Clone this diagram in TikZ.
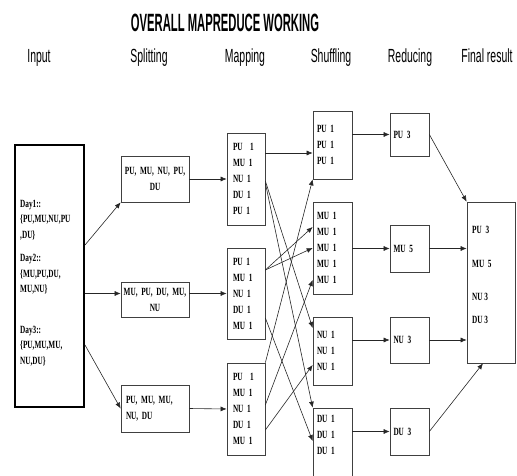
\documentclass[tikz,border=0pt]{standalone}
\usepackage{fontspec}
\newfontfamily\boxfont[FakeStretch=0.66]{Liberation Serif}
\newfontfamily\headfont[FakeStretch=0.55]{Liberation Sans}
\newfontfamily\titlefont[FakeStretch=0.45]{Liberation Sans}
\usetikzlibrary{arrows.meta}

\begin{document}
\begin{tikzpicture}[x=1pt,y=-1pt,
  >={Latex[length=6pt,width=5pt]},
  box/.style={draw=black!75, line width=0.7pt, inner xsep=0pt, inner ysep=0pt, font=\boxfont\bfseries\fontsize{11}{16}\selectfont},
  splitbox/.style={box, minimum width=68pt, text width=66pt, align=center},
  mapbox/.style={box, minimum width=38pt, minimum height=92pt, text width=26pt, align=left},
  shufbox/.style={box, minimum width=39pt, text width=31pt, align=left},
  redbox/.style={box, minimum width=39pt, minimum height=46pt, text width=32pt, align=left},
  head/.style={anchor=base, font=\headfont\fontsize{19}{22}\selectfont},
  link/.style={->, line width=0.6pt, black!85}]
\useasboundingbox (0,0) rectangle (517,476);
\clip (0,0) rectangle (517,476);

% headings
\node[anchor=base, font=\titlefont\bfseries\fontsize{25}{28}\selectfont] (title) at (225,32) {OVERALL MAPREDUCE WORKING};
\node[head] (hinput) at (39,63) {Input};
\node[head] (hsplit) at (149,63) {Splitting};
\node[head] (hmap) at (245,63) {Mapping};
\node[head] (hshuf) at (331,63) {Shuffling};
\node[head] (hred) at (410,63) {Reducing};
\node[head] (hfin) at (487,63) {Final result};

% input
\node[draw, line width=2pt, minimum width=69pt, minimum height=262pt] (inp) at (49.5,276) {};
\node[anchor=north west, inner sep=0pt, align=left, font=\boxfont\bfseries\fontsize{11}{15.5}\selectfont] (inptext) at (20,200)
  {Day1::\\\{PU,MU,NU,PU\\,DU\}\\[8pt]Day2::\\\{MU,PU,DU,\\MU,NU\}\\[25pt]Day3::\\\{PU,MU,MU,\\NU,DU\}};

% splitting
\node[splitbox, minimum height=46pt] (split1) at (155,179) {PU, MU, NU, PU,\\DU};
\node[splitbox, minimum height=35pt] (split2) at (155,299.5) {MU, PU, DU, MU,\\NU};
\node[splitbox, minimum height=47pt, text width=58pt, align=left] (split3) at (155,408.5) {PU, MU, MU,\\NU, DU};

% mapping
\node[mapbox] (map1) at (246,179) {PU\ \ 1\\MU 1\\NU 1\\DU 1\\PU 1};
\node[mapbox, minimum height=91pt] (map2) at (246,293.5) {PU 1\\MU 1\\NU 1\\DU 1\\MU 1};
\node[mapbox] (map3) at (246,409) {PU\ \ 1\\MU 1\\NU 1\\DU 1\\MU 1};

% shuffling
\node[shufbox, minimum height=68pt] (shuf1) at (332.5,145) {PU 1\\PU 1\\PU 1};
\node[shufbox, minimum height=92pt] (shuf2) at (332.5,248) {MU 1\\MU 1\\MU 1\\MU 1\\MU 1};
\node[shufbox, minimum height=68pt] (shuf3) at (332.5,351) {NU 1\\NU 1\\NU 1};
\node[shufbox, minimum height=74pt] (shuf4) at (332.5,445) {DU 1\\DU 1\\DU 1\\ \strut};

% reducing
\node[redbox, minimum height=43pt] (red1) at (409.5,134.5) {PU 3};
\node[redbox, minimum height=47pt] (red2) at (409.5,248.5) {MU 5};
\node[redbox] (red3) at (409.5,340) {NU 3};
\node[redbox, minimum height=47pt] (red4) at (409.5,431.5) {DU 3};

% final result
\node[box, minimum width=48pt, minimum height=161pt] (fin) at (491,282.5) {};
\node[anchor=north west, inner sep=0pt, align=left, font=\boxfont\bfseries\fontsize{11}{16}\selectfont] (fintext) at (472,226)
  {PU\ \ 3\\[18pt]MU\ \ 5\\[17pt]NU 3\\[7pt]DU 3};

% input to splitting
\draw[link] ([yshift=31pt]inp.east) -- (split1.south west);
\draw[link] (inp.east |- map2.west) -- (split2.west |- map2.west);
\draw[link] ([yshift=-69pt]inp.east) -- (split3.west);

% splitting to mapping
\draw[link] (split1.east) -- (map1.west);
\draw[link] (split2.east |- map2.west) -- (map2.west);
\draw[link] (split3.east) -- (map3.west);

% mapping to shuffling
\draw[link] ([yshift=26pt]map1.east) -- ([yshift=26pt]map1.east -| shuf1.west);
\draw[link] ([yshift=-2pt]map1.east) -- ([yshift=23pt]shuf3.west);
\draw[link] ([yshift=-4pt]map1.east) -- (shuf4.north west);
\draw[link] ([yshift=23.5pt]map2.east) -- ([yshift=21pt]shuf2.west);
\draw[link] ([yshift=23.5pt]map2.east) -- (shuf2.west);
\draw[link] ([yshift=-24.5pt]map2.east) -- ([yshift=4pt]shuf4.west);
\draw[link] (map3.north east) -- (shuf1.south west);
\draw[link] ([yshift=4pt]map3.east) -- ([yshift=-32pt]shuf2.west);
\draw[link] ([yshift=-21pt]map3.east) -- ([yshift=-14pt]shuf3.west);

% shuffling to reducing
\draw[link] (shuf1.east |- red1.west) -- (red1.west);
\draw[link] (shuf2.east |- red2.west) -- (red2.west);
\draw[link] (shuf3.east |- red3.west) -- (red3.west);
\draw[link] (shuf4.east |- red4.west) -- (red4.west);

% reducing to final result
\draw[link] (red1.east) -- (fin.north west);
\draw[link] (red2.east) -- (red2.east -| fin.west);
\draw[link] (red3.east) -- (red3.east -| fin.west);
\draw[link] (red4.east) -- ([xshift=-8pt]fin.south);

\end{tikzpicture}
\end{document}
